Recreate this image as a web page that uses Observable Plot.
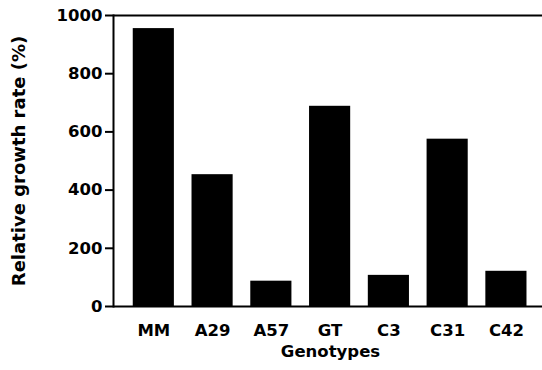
<!DOCTYPE html>
<html><head><meta charset="utf-8">
<script src="https://cdn.jsdelivr.net/npm/d3@7"></script>
<script src="https://cdn.jsdelivr.net/npm/@observablehq/plot@0.6"></script>
<style>body{margin:0;background:#fff;overflow:hidden} svg{display:block}</style>
</head><body><div id="chart"></div>
<script>
const genotypes = ["MM", "A29", "A57", "GT", "C3", "C31", "C42"];
const growthRates = [955, 453, 87, 688, 107, 575, 121];
const yTicks = [0, 200, 400, 600, 800, 1000];
const yDomain = [0, 1000];
const xLabel = "Genotypes";
const yLabel = "Relative growth rate (%)";

const data = genotypes.map((g, i) => ({genotype: g, rate: growthRates[i]}));
const font = "DejaVu Sans";

const plot = Plot.plot({
  width: 542, height: 370,
  marginLeft: 113, marginRight: 0, marginTop: 15, marginBottom: 64,
  style: {fontFamily: font, fontSize: "16px", fontWeight: "bold", color: "#000", background: "#fff"},
  x: {domain: genotypes, paddingInner: 0.3, paddingOuter: 0.3, align: 0.56, round: false, label: null},
  y: {domain: yDomain, label: null},
  marks: [
    Plot.barY(data, {x: "genotype", y: "rate", fill: "#000"}),
    Plot.ruleY(yDomain, {stroke: "#000", strokeWidth: 2}),
    Plot.frame({anchor: "left", stroke: "#000", strokeWidth: 2}),
    Plot.axisY({ticks: yTicks, tickFormat: d => String(d), tickSize: 8, tickPadding: 3, strokeWidth: 2, label: null, fontSize: 16.5}),
    Plot.axisX({tickSize: 0, tickPadding: 18, label: null, fontSize: 16.5}),
    Plot.text([xLabel], {text: d => d, frameAnchor: "bottom", lineAnchor: "middle", textAnchor: "middle", dy: 45, dx: 2.5, fontSize: 16.5, fontWeight: "bold"}),
    Plot.text([yLabel], {text: d => d, frameAnchor: "left", textAnchor: "middle", lineAnchor: "middle", dx: -94, rotate: -90, fontSize: 18, fontWeight: "bold"})
  ]
});
document.getElementById("chart").appendChild(plot);
</script>
</body></html>
